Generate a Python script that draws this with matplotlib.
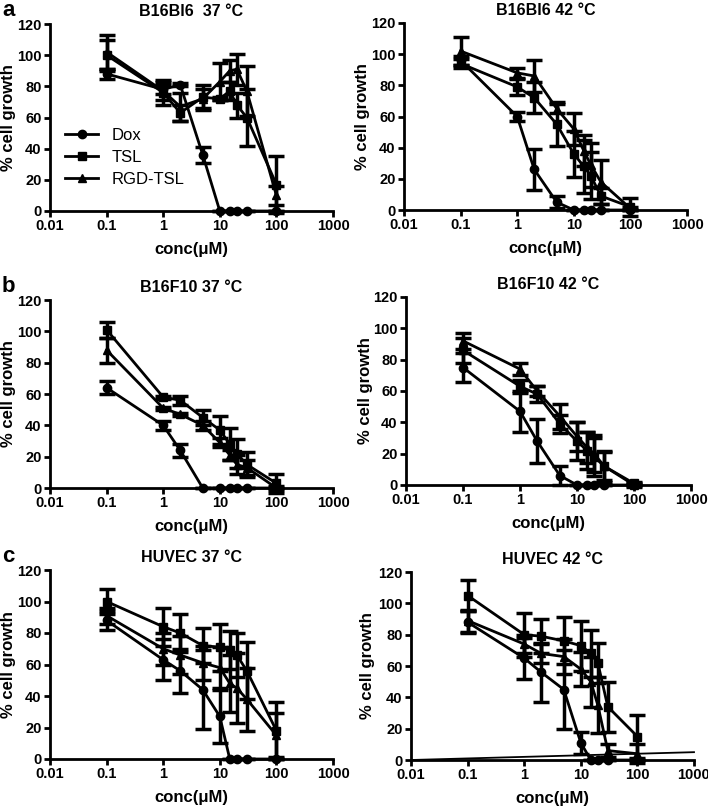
import numpy as np
import matplotlib.pyplot as plt
from matplotlib.lines import Line2D

plt.rcParams['font.family'] = ['Liberation Sans', 'DejaVu Sans']
plt.rcParams['font.weight'] = 'bold'

conc = [0.1, 1, 2, 5, 10, 15, 20, 30, 100]

# B16Bl6 37 C
a37_dox = [88, 78, 81, 36, 0, 0, 0, 0, 0]
a37_dox_err = [3, 3, 1, 5, 0, 0, 0, 0, 0]
a37_tsl = [100, 76, 63, 73, 72, 77, 68, 60, 17]
a37_tsl_err = [10, 8, 5, 8, 1, 6, 8, 18, 18]
a37_rgd = [102, 77, 67, 72, 83, 90, 91, 77, 10]
a37_rgd_err = [11, 6, 9, 6, 12, 7, 10, 16, 6]

# B16Bl6 42 C
a42_dox = [96, 60, 26, 5, 0, 0, 0, 0, 0]
a42_dox_err = [3, 3, 13, 4, 0, 0, 0, 0, 0]
a42_tsl = [94, 79, 72, 55, 36, 28, 22, 9, 2]
a42_tsl_err = [3, 5, 10, 14, 15, 17, 15, 5, 6]
a42_rgd = [102, 88, 86, 65, 52, 38, 29, 18, 1]
a42_rgd_err = [9, 3, 10, 3, 10, 10, 14, 14, 1]

# B16F10 37 C
b37_dox = [64, 40, 24, 0, 0, 0, 0, 0, 0]
b37_dox_err = [4, 3, 4, 0, 0, 0, 0, 0, 0]
b37_tsl = [101, 58, 56, 45, 37, 28, 22, 15, 3]
b37_tsl_err = [5, 1, 3, 5, 9, 10, 9, 8, 6]
b37_rgd = [88, 51, 47, 40, 29, 21, 15, 13, 0]
b37_rgd_err = [8, 1, 1, 3, 3, 3, 6, 5, 1]

# B16F10 42 C
b42_dox = [75, 47, 28, 6, 0, 0, 0, 0, 0]
b42_dox_err = [9, 13, 14, 6, 0, 0, 0, 0, 0]
b42_tsl = [86, 63, 58, 39, 28, 22, 18, 12, 1]
b42_tsl_err = [8, 4, 5, 6, 12, 12, 12, 9, 1]
b42_rgd = [92, 74, 60, 44, 31, 24, 20, 12, 0]
b42_rgd_err = [5, 4, 3, 8, 9, 10, 12, 10, 1]

# HUVEC 37 C
c37_dox = [88, 63, 56, 44, 27, 0, 0, 0, 0]
c37_dox_err = [6, 13, 14, 25, 17, 0, 0, 0, 0]
c37_tsl = [100, 84, 80, 72, 71, 69, 66, 56, 18]
c37_tsl_err = [8, 12, 12, 11, 15, 12, 14, 18, 18]
c37_rgd = [91, 70, 66, 61, 58, 48, 45, 38, 15]
c37_rgd_err = [5, 10, 12, 11, 13, 18, 22, 20, 14]

# HUVEC 42 C
c42_dox = [88, 65, 56, 45, 11, 0, 0, 0, 0]
c42_dox_err = [7, 13, 19, 25, 7, 0, 0, 0, 0]
c42_tsl = [105, 80, 79, 76, 73, 68, 62, 34, 15]
c42_tsl_err = [10, 14, 11, 15, 16, 15, 13, 16, 14]
c42_rgd = [89, 74, 68, 66, 58, 50, 35, 6, 4]
c42_rgd_err = [7, 6, 6, 11, 11, 16, 18, 4, 6]
c42_extra_x = [0.01, 1000]
c42_extra_y = [0, 5]

panels = [
    ("B16Bl6  37 °C", "a", (a37_dox, a37_dox_err, a37_tsl, a37_tsl_err, a37_rgd, a37_rgd_err), (50, 333, 24, 211), 16),
    ("B16Bl6 42 °C", None, (a42_dox, a42_dox_err, a42_tsl, a42_tsl_err, a42_rgd, a42_rgd_err), (404, 687, 23, 210), 370),
    ("B16F10 37 °C", "b", (b37_dox, b37_dox_err, b37_tsl, b37_tsl_err, b37_rgd, b37_rgd_err), (50, 333, 300, 488), 16),
    ("B16F10 42 °C", None, (b42_dox, b42_dox_err, b42_tsl, b42_tsl_err, b42_rgd, b42_rgd_err), (406, 691, 297, 485), 373),
    ("HUVEC 37 °C", "c", (c37_dox, c37_dox_err, c37_tsl, c37_tsl_err, c37_rgd, c37_rgd_err), (50, 333, 570, 759), 16),
    ("HUVEC 42 °C", None, (c42_dox, c42_dox_err, c42_tsl, c42_tsl_err, c42_rgd, c42_rgd_err), (411, 694, 572, 760), 375),
]

W, H = 708, 807
fig = plt.figure(figsize=(W / 100, H / 100), dpi=100)

markers = ['o', 's', '^']
names = ['Dox', 'TSL', 'RGD-TSL']

for i, (title, letter, d, (x0, x1, y0, y1), ylab_x) in enumerate(panels):
    ax = fig.add_axes([x0 / W, 1 - y1 / H, (x1 - x0) / W, (y1 - y0) / H])
    for k in range(3):
        ax.errorbar(conc, d[2 * k], yerr=d[2 * k + 1], color='black', marker=markers[k],
                    markersize=6, lw=2, elinewidth=2.5, capsize=6, capthick=2.5, clip_on=False)
    if i == 5:
        ax.plot(c42_extra_x, c42_extra_y, color='black', lw=1.3, clip_on=False)
    ax.set_xscale('log')
    ax.set_xlim(0.01, 1000)
    ax.set_ylim(0, 120)
    ax.set_yticks(range(0, 121, 20))
    ax.set_xticks([0.01, 0.1, 1, 10, 100, 1000])
    ax.set_xticklabels(['0.01', '0.1', '1', '10', '100', '1000'])
    ax.minorticks_off()
    ax.spines['top'].set_visible(False)
    ax.spines['right'].set_visible(False)
    ax.spines['left'].set_linewidth(2)
    ax.spines['bottom'].set_linewidth(2)
    ax.tick_params(width=2, length=4, labelsize=10.5, pad=2)
    for lab in ax.get_xticklabels() + ax.get_yticklabels():
        lab.set_fontweight('bold')
    ax.set_xlabel('conc(μM)', fontsize=12, fontweight='bold', labelpad=6)
    ax.set_ylabel('% cell growth', fontsize=12, fontweight='bold')
    ax.yaxis.set_label_coords((ylab_x - x0) / (x1 - x0), 0.5)
    ax.set_title(title, fontsize=11.5, fontweight='bold', pad=6)
    if letter:
        fig.text(2 / W, 1 - (y0 - 13) / H, letter, fontsize=16, fontweight='bold', va='center')
    if i == 0:
        handles = [Line2D([], [], color='black', marker=m, markersize=6, lw=2) for m in markers]
        ax.legend(handles, names, loc='lower left', bbox_to_anchor=(0.0, 0.05),
                  frameon=False, prop={'size': 12, 'weight': 'normal'},
                  handlelength=2.0, labelspacing=0.4, handletextpad=0.8)

fig.savefig('out.png', dpi=100)
